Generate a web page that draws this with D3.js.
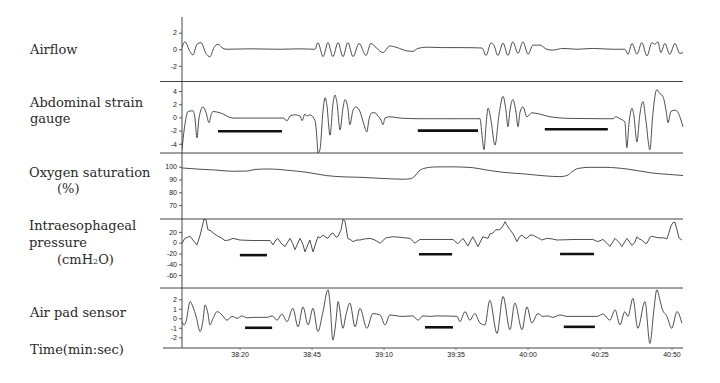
<!DOCTYPE html>
<html><head><meta charset="utf-8">
<script src="https://cdn.jsdelivr.net/npm/d3@7"></script>
<style>html,body{margin:0;padding:0;background:#fff;}svg{display:block;}</style>
</head><body>
<svg id="chart" width="720" height="383"></svg>
<script>
// ---- data (time in seconds after 38:00) ----
const startSec = 2280;
const timeTicks = [20, 45, 70, 95, 120, 145, 170];

const airflowTicks = [2, 0, -2];
const abdTicks = [4, 2, 0, -2, -4];
const o2Ticks = [100, 90, 80, 70];
const esoTicks = [20, 0, -20, -40, -60];
const padTicks = [2, 1, 0, -1, -2];

const airflow = [[0,0.2],[1.0,0.9],[2.8,-0.3],[3.8,-0.7],[5.2,0.6],[6.6,0.8],[8.3,-0.5],[9.7,-0.9],[11.1,0.2],[12.5,0.6],[13.9,0.2],[15.3,0],[23.6,0.05],[34.0,0],[41.0,0.05],[46.2,0],[47.2,0.8],[49.0,-0.9],[50.7,0.8],[52.4,-0.9],[54.2,0.8],[55.9,-0.9],[57.6,0.8],[59.4,-0.9],[61.5,0.7],[63.9,-0.75],[65.6,0.7],[67.4,0.2],[69.8,-0.4],[72.2,0.4],[74.7,0.2],[78.1,-0.2],[80.2,-0.25],[81.9,0.1],[85.1,0.25],[90.6,0.2],[96.5,0.2],[104.2,0.15],[105.6,-0.75],[107.3,0.75],[108.3,0.5],[109.7,-0.75],[111.5,0.75],[113.2,-0.75],[114.9,0.9],[116.7,-0.5],[118.4,0.9],[120.2,-0.6],[121.9,0.5],[124.3,0.5],[126.7,0],[128.8,-0.1],[132.3,0.1],[137.2,0],[142.7,0.1],[149.7,0],[153.8,0],[154.9,-0.6],[156.3,0.7],[158.0,-0.6],[159.7,0.8],[161.5,-0.8],[163.2,0.8],[164.2,0.6],[165.3,0.9],[166.3,-0.4],[167.7,0.7],[169.4,-0.6],[171.2,0.7],[172.9,-0.5],[174.0,-0.4]];

const abdominal = [[0,-4.9],[1.0,-1.1],[2.1,0.9],[3.8,1.0],[4.5,-0.1],[5.2,-3.1],[5.9,-0.1],[7.3,1.6],[8.3,0.8],[9.4,-0.8],[10.1,0.4],[10.8,0.9],[13.2,0.7],[17.7,-0.1],[27.1,-0.1],[35.1,-0.1],[36.5,-0.5],[37.5,0.2],[39.2,0.4],[41.0,0.2],[41.7,-0.5],[42.7,0.5],[43.4,0.2],[44.4,0.4],[46.2,-0.5],[46.9,-3.4],[47.2,-5.4],[47.9,-4.9],[49.0,1.1],[49.7,3.0],[50.3,1.9],[51.4,-2.7],[52.4,1.9],[53.1,3.4],[53.8,2.3],[54.9,-1.9],[55.9,1.4],[56.6,2.7],[57.6,1.4],[58.3,-1.1],[59.4,1.1],[60.4,1.6],[61.8,0.9],[63.2,-1.1],[64.2,-2.2],[64.9,-0.4],[66.0,0.7],[67.0,0.7],[68.1,0.2],[69.1,-0.4],[69.8,-1.1],[70.5,-0.1],[72.2,0.1],[75.7,-0.1],[82.6,-0.2],[93.1,-0.2],[103.5,-0.2],[104.2,-2.7],[104.9,-4.9],[105.6,-1.1],[106.3,1.4],[107.3,-0.4],[108.7,-4.2],[110.1,0.4],[111.5,3.2],[112.5,1.1],[113.2,-1.4],[113.9,1.1],[114.9,2.7],[116.0,0.8],[116.7,-1.4],[117.4,0.8],[118.4,1.6],[119.8,0.1],[121.5,0.7],[124.3,0.5],[127.8,0.1],[134.7,-0.15],[145.1,-0.2],[149.7,-0.2],[150.7,0.1],[152.1,-0.2],[153.8,-0.7],[154.5,-4.6],[155.2,-1.1],[156.3,1.4],[156.9,0.4],[158.0,-3.7],[159.0,0.4],[160.1,2.4],[161.1,-0.4],[162.5,-4.9],[163.5,0.4],[164.9,4.2],[166.0,3.6],[167.0,3.2],[168.1,1.1],[168.8,-0.8],[169.8,0.9],[171.2,1.1],[172.2,0.8],[173.3,-0.4],[174.0,-1.4]];

const oxygen = [[0,99],[6.3,98],[11.5,97.4],[17.7,96.4],[22.6,96.6],[25.3,97.8],[29.5,98.2],[34.0,97.8],[37.5,97],[43.4,95.6],[50.3,93],[56.6,92],[61.8,91.7],[68.8,90.9],[76.7,90.2],[79.2,90.5],[80.9,92.7],[82.3,96.6],[84.0,98.6],[87.8,99.8],[93.1,99.9],[100.0,99.4],[106.9,97],[111.5,95.6],[119.1,94.3],[126.7,92.7],[131.3,92.2],[133.7,93.1],[135.4,95.9],[137.5,98.6],[141.7,99.5],[146.9,99.5],[154.5,98.2],[163.5,95],[169.4,93.9],[174.0,93.1]];

const esophageal = [[0,-1],[1.0,8],[2.8,12],[3.8,5],[5.2,-4],[6.3,14],[6.9,27],[7.6,43],[8.3,43],[9.0,24],[10.1,22],[10.8,18],[12.5,12],[13.9,8],[14.9,4],[16.3,5],[17.7,8],[20.1,5],[24.7,4],[30.6,4],[31.6,-4],[32.6,5],[33.3,8],[34.4,-1],[35.8,-7],[37.5,8],[38.5,-2],[39.2,-13],[41.0,8],[42.0,-3],[42.7,-17],[44.4,5],[45.5,-17],[47.2,11],[47.9,9],[49.0,14],[50.0,10],[50.7,8],[51.7,16],[52.4,18],[53.5,10],[54.2,12],[55.2,23],[55.9,43],[56.6,40],[57.6,8],[58.7,5],[59.4,2],[60.8,5],[61.8,5],[63.5,7],[65.3,8],[67.0,5],[68.8,-1],[70.8,9],[73.3,11],[75.7,10],[79.2,8],[80.9,-1],[82.6,6],[87.8,6],[94.1,6],[95.8,-2],[97.6,8],[99.3,-6],[101.0,11],[102.8,-7],[104.5,11],[106.3,8],[106.9,16],[108.0,18],[109.0,24],[110.4,24],[111.5,31],[112.2,39],[112.8,33],[113.5,27],[114.2,22],[114.9,17],[115.6,10],[116.3,2],[117.4,12],[118.1,14],[119.1,9],[119.8,8],[120.8,14],[121.9,14],[123.6,9],[125.0,5],[126.7,8],[128.5,7],[130.2,5],[136.5,6],[142.7,6],[144.4,2],[146.2,6],[147.6,-1],[148.6,-7],[150.4,8],[151.7,1],[152.8,-7],[154.5,8],[156.3,-5],[157.3,1],[158.0,11],[158.7,7],[159.7,5],[160.8,-1],[161.5,-1],[162.5,10],[163.2,12],[164.6,10],[166.0,9],[167.4,9],[168.4,7],[169.1,18],[169.8,31],[170.5,37],[171.2,38],[171.9,24],[172.6,9],[173.6,5]];

const airpad = [[0,-0.35],[0.7,-0.7],[1.4,-0.35],[2.8,1.75],[3.8,1.2],[4.9,0.2],[6.3,-1.4],[7.3,-0.2],[8.0,1.4],[9.0,0.5],[9.7,-0.7],[10.8,0],[12.2,0.7],[13.9,0.35],[15.6,-0.2],[17.4,0.2],[19.1,0],[20.8,0.25],[22.6,0.05],[25.3,0.1],[29.5,0.1],[31.3,0.25],[33.0,-0.2],[34.7,0.45],[36.5,-0.35],[38.5,1.05],[40.3,-0.9],[42.0,1.2],[43.8,-0.7],[45.5,1.05],[47.2,-1.4],[48.9,0.6],[50.7,3.0],[51.4,1.6],[52.4,-2.3],[53.5,-0.2],[54.2,1.75],[55.9,-1.05],[56.9,0.3],[58.3,1.6],[60.1,-0.9],[61.8,1.05],[64.2,-1.05],[66.3,0.5],[68.8,0.35],[70.5,-0.7],[72.2,0.35],[74.7,0.25],[76.7,0.2],[80.2,0.25],[81.9,-0.2],[83.7,0.25],[86.1,0.2],[88.5,0.25],[95.5,0.2],[96.5,-0.35],[98.3,0.7],[100.0,-0.2],[101.7,0.5],[103.5,-0.5],[105.2,-0.7],[106.9,1.9],[109.4,-1.6],[111.5,2.3],[113.9,-1.2],[115.6,1.6],[118.1,-1.2],[119.8,1.2],[121.5,-0.5],[123.6,0.5],[125.3,0.2],[127.1,0.25],[128.8,0.1],[131.3,0.35],[133.7,0.2],[138.2,0.2],[144.1,0.2],[146.2,0.45],[148.6,-0.2],[150.4,0.9],[152.1,-0.7],[153.8,0.7],[154.9,0.2],[156.6,2.1],[158.3,-1.05],[160.8,1.75],[162.5,-2.65],[163.9,0.9],[164.9,3.0],[166.0,1.9],[166.7,1.05],[168.4,0.2],[170.1,-1.05],[171.9,0.7],[173.6,-0.5]];

// apnea bars: [start, end, level]
const abdBars = [[12.5,34.7,-2.1],[81.9,102.8,-2.0],[126.0,147.9,-1.8]];
const esoBars = [[20.1,29.5,-23],[82.3,93.8,-21.5],[131.3,143.1,-21]];
const padBars = [[21.9,31.3,-1.0],[84.4,94.1,-0.95],[132.6,143.4,-0.9]];

// ---- layout ----
const svg = d3.select("#chart");
const axisX = 182, rightX = 683, sepLeft = 160;
const x = d3.scaleLinear().domain([0, 174]).range([axisX, rightX]);

const panels = [
  {data: airflow, ticks: airflowTicks, domain: [-3.9, 3.9], top: 17, bottom: 81.5, curve: d3.curveMonotoneX, bars: []},
  {data: abdominal, ticks: abdTicks, domain: [-5.4, 5.45], top: 81.5, bottom: 153, curve: d3.curveMonotoneX, bars: abdBars},
  {data: oxygen, ticks: o2Ticks, domain: [59.1, 110.7], top: 153, bottom: 219, curve: d3.curveMonotoneX, bars: []},
  {data: esophageal, ticks: esoTicks, domain: [-83.9, 43.9], top: 219, bottom: 288, curve: d3.curveLinear, bars: esoBars},
  {data: airpad, ticks: padTicks, domain: [-3.13, 3.19], top: 288, bottom: 348, curve: d3.curveMonotoneX, bars: padBars}
];

const defs = svg.append("defs");
panels.forEach((p, i) => {
  const y = d3.scaleLinear().domain(p.domain).range([p.bottom, p.top]);
  defs.append("clipPath").attr("id", "clip" + i)
    .append("rect").attr("x", axisX).attr("y", p.top).attr("width", rightX - axisX + 2).attr("height", p.bottom - p.top);
  const g = svg.append("g");
  // axis ticks
  const ax = d3.axisLeft(y).tickValues(p.ticks).tickSize(3).tickPadding(2).tickFormat(d => String(d));
  const ag = g.append("g").attr("transform", `translate(${axisX},0)`).call(ax);
  ag.select(".domain").remove();
  ag.selectAll("line").attr("stroke", "#333").attr("stroke-width", 0.8);
  ag.selectAll("text").attr("font-family", "Liberation Sans, Arial, sans-serif").attr("font-size", 7).attr("fill", "#222");
  // waveform
  const line = d3.line().x(d => x(d[0])).y(d => y(d[1])).curve(p.curve);
  g.append("path").datum(p.data).attr("d", line)
    .attr("fill", "none").attr("stroke", "#3a3a3a").attr("stroke-width", 0.9)
    .attr("clip-path", `url(#clip${i})`);
  // bars
  g.selectAll("line.bar").data(p.bars).enter().append("line").attr("class", "bar")
    .attr("x1", d => x(d[0])).attr("x2", d => x(d[1]))
    .attr("y1", d => y(d[2])).attr("y2", d => y(d[2]))
    .attr("stroke", "#111").attr("stroke-width", 2.6);
  // separator (bottom)
  if (i < panels.length - 1) {
    svg.append("line").attr("x1", sepLeft).attr("x2", rightX).attr("y1", p.bottom).attr("y2", p.bottom)
      .attr("stroke", "#444").attr("stroke-width", 1);
  }
});

// vertical axis line
svg.append("line").attr("x1", axisX).attr("x2", axisX).attr("y1", 17).attr("y2", 348)
  .attr("stroke", "#333").attr("stroke-width", 0.9);

// time axis
const fmt = s => { const t = startSec + s; const m = Math.floor(t / 60); const ss = t % 60; return m + ":" + (ss < 10 ? "0" : "") + ss; };
const tAxis = d3.axisBottom(x).tickValues(timeTicks).tickSize(2).tickPadding(2).tickFormat(fmt);
const tg = svg.append("g").attr("transform", "translate(0,348)").call(tAxis);
tg.select(".domain").remove();
tg.selectAll("line").attr("stroke", "#555").attr("stroke-width", 0.7);
tg.selectAll("text").attr("font-family", "Liberation Sans, Arial, sans-serif").attr("font-size", 7).attr("fill", "#222");
svg.append("line").attr("x1", 163).attr("x2", rightX).attr("y1", 348).attr("y2", 348)
  .attr("stroke", "#444").attr("stroke-width", 1);

// left labels
const labels = [
  {t: "Airflow", x: 30, y: 54},
  {t: "Abdominal strain", x: 30, y: 107},
  {t: "gauge", x: 30, y: 123},
  {t: "Oxygen saturation", x: 29, y: 177},
  {t: "(%)", x: 57, y: 193},
  {t: "Intraesophageal", x: 29, y: 230},
  {t: "pressure", x: 29, y: 247},
  {t: "Air pad sensor", x: 30, y: 317},
  {t: "Time(min:sec)", x: 30, y: 354}
];
const lg = svg.append("g").attr("font-family", "DejaVu Serif, serif").attr("font-size", 13).attr("fill", "#2a2a2a");
lg.selectAll("text.lbl").data(labels).enter().append("text").attr("class", "lbl")
  .attr("x", d => d.x).attr("y", d => d.y).text(d => d.t);
const cm = lg.append("text").attr("x", 57).attr("y", 264);
cm.append("tspan").text("(cmH");
cm.append("tspan").attr("font-size", 8).text("2");
cm.append("tspan").text("O)");
</script>
</body></html>
